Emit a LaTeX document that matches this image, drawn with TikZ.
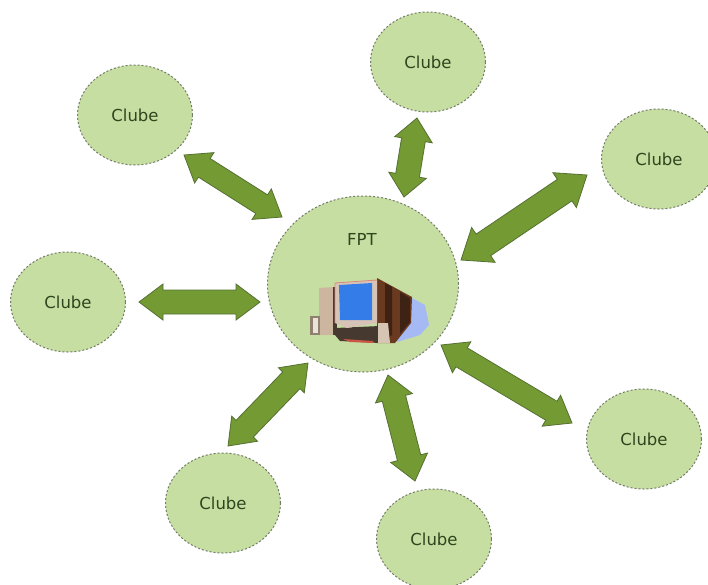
\documentclass[tikz,border=0pt]{standalone}
\usepackage{fontspec}
\setmainfont{DejaVu Sans}
\usetikzlibrary{calc,shapes.geometric}
\definecolor{clubfill}{RGB}{199,222,162}
\definecolor{clubedge}{RGB}{115,125,105}
\definecolor{linkfill}{RGB}{116,154,52}
\definecolor{linkedge}{RGB}{85,112,50}
\definecolor{inktext}{RGB}{45,70,30}
\definecolor{shadowblue}{RGB}{165,185,245}
\definecolor{bodybrown}{RGB}{105,58,32}
\definecolor{bodydark}{RGB}{62,34,20}
\definecolor{framebeige}{RGB}{216,196,182}
\definecolor{screenblue}{RGB}{52,125,232}
\definecolor{towerbeige}{RGB}{205,182,160}
\definecolor{basedark}{RGB}{70,58,48}
\definecolor{basered}{RGB}{205,85,70}
\tikzset{
  club/.style={ellipse,draw=clubedge,fill=clubfill,dash pattern=on 2pt off 2pt,line width=1pt,
    minimum width=115pt,minimum height=100pt,inner sep=0pt,text=inktext,font=\fontsize{16.5}{20}\selectfont},
  hubnode/.style={club,minimum width=191pt,minimum height=176pt},
  linkarrow/.style={draw=linkedge,fill=linkfill,line width=0.8pt,line join=miter},
  labeltext/.style={text=inktext,font=\fontsize{16.5}{20}\selectfont,inner sep=0pt}
}
% #1,#2 ends; #3 half head width; #4 half shaft width; #5 head length
\newcommand{\dblarrow}[5]{%
  \coordinate (p) at ($(#1)!#5pt!(#2)$);
  \coordinate (q) at ($(#2)!#5pt!(#1)$);
  \draw[linkarrow] (#1) -- ($(p)!#3pt!90:(#2)$) -- ($(p)!#4pt!90:(#2)$)
    -- ($(q)!#4pt!-90:(#1)$) -- ($(q)!#3pt!-90:(#1)$) -- (#2)
    -- ($(q)!#3pt!90:(#1)$) -- ($(q)!#4pt!90:(#1)$)
    -- ($(p)!#4pt!-90:(#2)$) -- ($(p)!#3pt!-90:(#2)$) -- cycle;
}
\begin{document}
\begin{tikzpicture}[x=1pt,y=-1pt]
\useasboundingbox (0,0) rectangle (708,584);
\fill[white] (0,0) rectangle (708,584);
\node[hubnode] (hub) at (363,284) {};
\node[labeltext] (hubtext) at (362,239) {FPT};
\node[club] (c1) at (135,115) {Clube};
\node[club] (c2) at (428,62) {Clube};
\node[club] (c3) at (659,159) {Clube};
\node[club] (c4) at (68,302) {Clube};
\node[club] (c5) at (223,503) {Clube};
\node[club] (c6) at (434,539) {Clube};
\node[club] (c7) at (644,439) {Clube};
% computer icon
\fill[shadowblue] (410,297) -- (425,305) -- (429,325) -- (420,335) -- (397,342) -- (393,330) -- cycle;
\fill[bodybrown] (377,278) -- (412,297) -- (411,323) -- (395,343) -- (377,343) -- cycle;
\fill[bodydark] (385,283) -- (392,287) -- (392,335) -- (385,340) -- cycle;
\fill[bodydark] (400,292) -- (410,298) -- (410,322) -- (400,334) -- cycle;
\fill[basedark] (335,328) -- (380,326) -- (380,343) -- (340,341) -- (335,335) -- cycle;
\fill[basered] (343,339) -- (373,341) -- (373,343) -- (350,342) -- cycle;
\fill[towerbeige] (319,288) -- (333,287) -- (333,335) -- (319,335) -- cycle;
\fill[basedark] (333,287) -- (337,287) -- (337,335) -- (333,335) -- cycle;
\fill[towerbeige!70!black] (310,316) -- (320,316) -- (320,335) -- (310,335) -- cycle;
\fill[towerbeige!40!white] (313,318) -- (318,318) -- (318,333) -- (313,333) -- cycle;
\fill[framebeige] (335,283) -- (377,280) -- (377,323) -- (347,328) -- (335,323) -- cycle;
\draw[basered!70!white,line width=0.8pt] (335,323) -- (335,283) -- (377,280);
\fill[screenblue] (339,285) -- (372,283) -- (372,320) -- (340,320) -- cycle;
\fill[towerbeige!80!white] (378,323) -- (388,323) -- (390,343) -- (378,343) -- cycle;
% connector ends
\coordinate (h1) at ($(hub)+(-81,-67)$);
\coordinate (k1) at ($(c1)+(49,40)$);
\coordinate (h2) at ($(hub)+(41,-87)$);
\coordinate (k2) at ($(c2)+(-11,56)$);
\coordinate (h3) at ($(hub)+(98,-24)$);
\coordinate (k3) at ($(c3)+(-72,16)$);
\coordinate (h4) at ($(hub)+(-103,18)$);
\coordinate (k4) at ($(c4)+(71,0)$);
\coordinate (h5) at ($(hub)+(-55,79)$);
\coordinate (k5) at ($(c5)+(5,-57)$);
\coordinate (h6) at ($(hub)+(25,91)$);
\coordinate (k6) at ($(c6)+(-19,-58)$);
\coordinate (h7) at ($(hub)+(78,61)$);
\coordinate (k7) at ($(c7)+(-72,-16)$);
\dblarrow{h1}{k1}{18}{11}{24}
\dblarrow{h2}{k2}{19}{12}{22}
\dblarrow{h3}{k3}{21}{13}{27}
\dblarrow{h4}{k4}{18}{12}{24}
\dblarrow{h5}{k5}{18}{12}{24}
\dblarrow{h6}{k6}{19}{12}{24}
\dblarrow{h7}{k7}{18}{11}{24}
\end{tikzpicture}
\end{document}
